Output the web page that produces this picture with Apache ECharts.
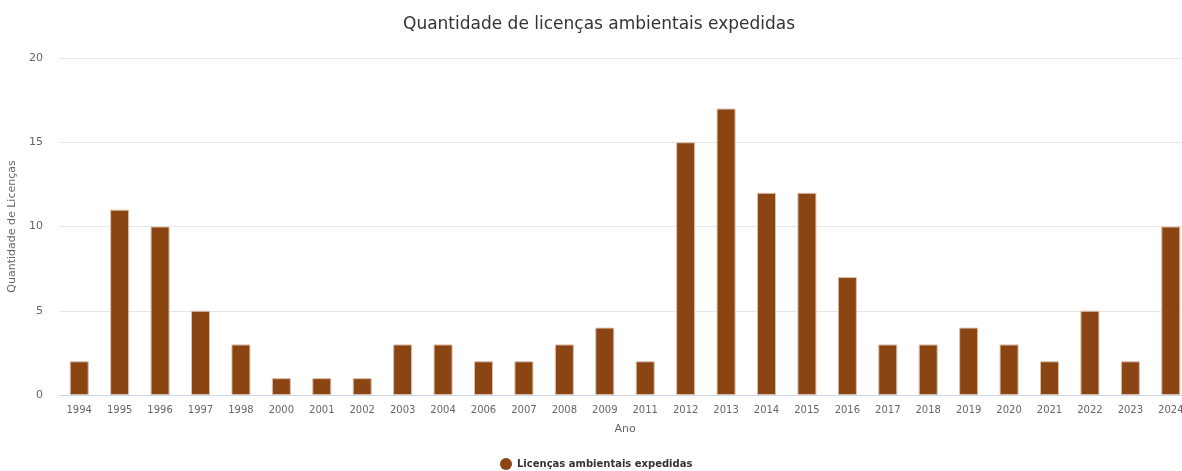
<!DOCTYPE html>
<html>
<head>
    <meta charset="utf-8">
    <title></title>
    <script src="https://cdn.jsdelivr.net/npm/echarts@6/dist/echarts.min.js"></script>
    <style>
        body{ margin: 0; }
        #chart{ width: 1182px; height: 471px; }
    </style>
</head>
<body>
<div id="chart"></div>
<script>
    // anos e quantidades
    var anos = ['1994','1995','1996','1997','1998','2000','2001','2002','2003','2004','2006','2007','2008','2009','2011',
        '2012','2013','2014','2015','2016','2017','2018','2019','2020','2021','2022','2023','2024'];
    var licencas = [2,11,10,5,3,1,1,1,3,3,2,2,3,4,2,15,17,12,12,7,3,3,4,3,2,5,2,10];
    var yTicks = [0, 20, 5];   // min, max, interval

    var fonte = 'DejaVu Sans';
    var option = {
        textStyle: { fontFamily: fonte },
        title: {
            text: 'Quantidade de licenças ambientais expedidas',
            left: 398,
            top: 11,
            textStyle: { fontFamily: fonte, fontSize: 17, fontWeight: 'normal', color: '#333333' }
        },
        legend: {
            left: 495,
            top: 453,
            icon: 'circle',
            itemWidth: 12,
            itemHeight: 12,
            itemGap: 6,
            itemStyle: { borderWidth: 0 },
            textStyle: { fontFamily: fonte, fontSize: 10, fontWeight: 'bold', color: '#333333' }
        },
        // a área do gráfico passa um pouco da borda direita, como no original
        grid: { left: 59, width: 1132, top: 58, bottom: 76, outerBoundsMode: 'none' },
        xAxis: {
            type: 'category',
            data: anos,
            name: 'Ano',
            nameLocation: 'middle',
            nameGap: 29,
            nameTextStyle: { color: '#666666', fontSize: 11 },
            axisLine: { lineStyle: { color: '#ccd6eb' } },
            axisTick: { show: false },
            axisLabel: { color: '#666666', fontSize: 10, interval: 0, margin: 10 }
        },
        yAxis: {
            type: 'value',
            min: yTicks[0],
            max: yTicks[1],
            interval: yTicks[2],
            name: 'Quantidade de Licenças',
            nameLocation: 'middle',
            nameGap: 38,
            nameTextStyle: { color: '#666666', fontSize: 11 },
            axisLabel: { color: '#666666', fontSize: 11, margin: 16 },
            splitLine: { lineStyle: { color: '#e6e6e6' } }
        },
        series: [{
            name: 'Licenças ambientais expedidas',
            type: 'bar',
            data: licencas,
            barWidth: 19,
            itemStyle: { color: '#8B4513', borderColor: '#d9c0ae', borderWidth: 1 }
        }]
    };
    var myChart = echarts.init(document.getElementById('chart'));
    myChart.setOption(option);
</script>
</body>
</html>
